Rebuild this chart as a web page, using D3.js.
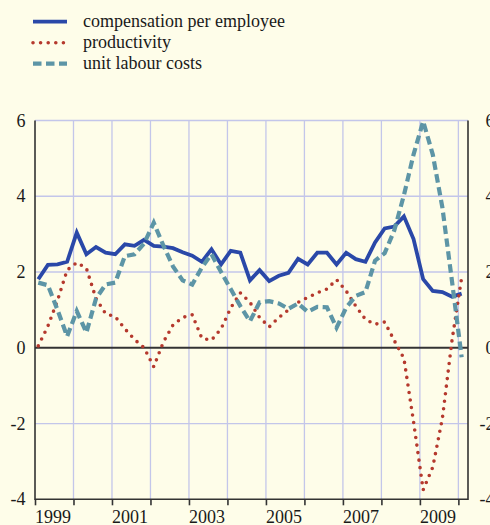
<!DOCTYPE html>
<html>
<head>
<meta charset="utf-8">
<script src="https://cdn.jsdelivr.net/npm/d3@7"></script>
<style>
	body { margin: 0; background: #fefde9; }
	svg { display: block; }
	text { font-family: "Liberation Serif", "Times New Roman", serif; fill: #1a1a1a; }
</style>
</head>
<body>
<div id="chart"></div>
<script>

// Quarterly observations, 1999 Q1 - 2010 Q1 (annual % changes)
var quarters = [
	'1999Q1', '1999Q2', '1999Q3', '1999Q4', '2000Q1', '2000Q2', '2000Q3', '2000Q4',
	'2001Q1', '2001Q2', '2001Q3', '2001Q4', '2002Q1', '2002Q2', '2002Q3', '2002Q4',
	'2003Q1', '2003Q2', '2003Q3', '2003Q4', '2004Q1', '2004Q2', '2004Q3', '2004Q4',
	'2005Q1', '2005Q2', '2005Q3', '2005Q4', '2006Q1', '2006Q2', '2006Q3', '2006Q4',
	'2007Q1', '2007Q2', '2007Q3', '2007Q4', '2008Q1', '2008Q2', '2008Q3', '2008Q4',
	'2009Q1', '2009Q2', '2009Q3', '2009Q4', '2010Q1'
];

var compensation = [
	1.81, 2.19, 2.20, 2.27, 3.04, 2.47, 2.66, 2.51, 2.47, 2.73, 2.69, 2.85,
	2.69, 2.67, 2.63, 2.52, 2.43, 2.27, 2.60, 2.20, 2.56, 2.51, 1.78, 2.05,
	1.76, 1.90, 1.98, 2.35, 2.20, 2.51, 2.51, 2.20, 2.51, 2.34, 2.27, 2.78,
	3.15, 3.20, 3.47, 2.87, 1.81, 1.50, 1.47, 1.35, 1.43
];

var productivity = [
	0.05, 0.57, 1.25, 2.05, 2.25, 2.10, 1.30, 0.90, 0.82, 0.50, 0.22, 0.00,
	-0.50, 0.15, 0.60, 0.80, 0.87, 0.25, 0.20, 0.50, 1.05, 1.45, 1.20, 0.80,
	0.55, 0.80, 1.00, 1.20, 1.33, 1.45, 1.55, 1.80, 1.50, 1.10, 0.75, 0.62,
	0.68, 0.19, -0.28, -1.95, -3.75, -3.15, -1.86, 0.20, 1.85
];

var unitLabourCosts = [
	1.72, 1.65, 1.00, 0.30, 0.97, 0.40, 1.30, 1.67, 1.72, 2.42, 2.47, 2.75,
	3.30, 2.70, 2.15, 1.78, 1.67, 2.12, 2.47, 2.00, 1.55, 1.10, 0.70, 1.20,
	1.23, 1.17, 1.03, 1.17, 0.95, 1.08, 1.07, 0.53, 1.06, 1.37, 1.47, 2.30,
	2.50, 3.10, 4.03, 5.10, 5.98, 5.10, 3.70, 1.75, -0.25
];

var yTicks = [-4, -2, 0, 2, 4, 6];
var yearTicks = [1999, 2000, 2001, 2002, 2003, 2004, 2005, 2006, 2007, 2008, 2009, 2010];
var yearLabels = [1999, 2001, 2003, 2005, 2007, 2009];

var legendItems = ['compensation per employee', 'productivity', 'unit labour costs'];

function drawChart() {
	var width = 490, height = 525;
	var plotLeft = 35, plotRight = 468, plotTop = 120.5, plotBottom = 499.3;

	var colors = ['#2a48a8', '#b5392d', '#5d95a6'];

	var svg = d3.select('#chart').append('svg')
		.attr('width', width)
		.attr('height', height);

	svg.append('rect')
		.attr('width', width)
		.attr('height', height)
		.attr('fill', '#fefde9');

	var x = d3.scaleLinear().domain([1999, 2010.25]).range([plotLeft, plotRight]);
	var y = d3.scaleLinear().domain([-4, 6]).range([plotBottom, plotTop]);

	// quarter label -> position on the time axis
	function qx(q) {
		var yr = +q.slice(0, 4), qn = +q.slice(5);
		return x(yr + (qn - 1) * 0.25 + 0.085);
	}

	// grid
	var grid = svg.append('g').attr('stroke', '#c3c6ea').attr('stroke-width', 1.3);
	grid.selectAll('line.v')
		.data(yearTicks.slice(1))
		.enter().append('line')
		.attr('class', 'v')
		.attr('x1', function (d) { return x(d); })
		.attr('x2', function (d) { return x(d); })
		.attr('y1', plotTop)
		.attr('y2', plotBottom);
	grid.selectAll('line.h')
		.data(yTicks.filter(function (d) { return d != 0 && d != -4; }))
		.enter().append('line')
		.attr('class', 'h')
		.attr('x1', plotLeft)
		.attr('x2', plotRight)
		.attr('y1', function (d) { return y(d); })
		.attr('y2', function (d) { return y(d); });

	// zero line
	svg.append('line')
		.attr('x1', plotLeft).attr('x2', plotRight)
		.attr('y1', y(0)).attr('y2', y(0))
		.attr('stroke', '#333').attr('stroke-width', 2);

	// axes frame (left, bottom, right)
	svg.append('path')
		.attr('d', 'M' + plotLeft + ',' + plotTop + 'V' + plotBottom + 'H' + plotRight + 'V' + plotTop)
		.attr('fill', 'none')
		.attr('stroke', '#333')
		.attr('stroke-width', 1.6);

	// bottom ticks at year boundaries
	svg.append('g')
		.attr('transform', 'translate(0,' + plotBottom + ')')
		.call(d3.axisBottom(x).tickValues(yearTicks).tickSize(6).tickFormat(''))
		.call(function (g) {
			g.select('.domain').remove();
			g.selectAll('line').attr('stroke', '#333').attr('stroke-width', 1.6);
		});

	// year labels, centred in the year
	svg.append('g').selectAll('text')
		.data(yearLabels)
		.enter().append('text')
		.attr('x', function (d) { return x(d + 0.47); })
		.attr('y', 522.5)
		.attr('text-anchor', 'middle')
		.attr('font-size', 18)
		.text(function (d) { return d; });

	// y labels, both sides
	svg.append('g').selectAll('text')
		.data(yTicks)
		.enter().append('text')
		.attr('x', 25.5)
		.attr('y', function (d) { return y(d) + 6; })
		.attr('text-anchor', 'end')
		.attr('font-size', 18)
		.text(function (d) { return d; });

	svg.append('g').selectAll('text')
		.data(yTicks)
		.enter().append('text')
		.attr('x', 494.5)
		.attr('y', function (d) { return y(d) + 6; })
		.attr('text-anchor', 'end')
		.attr('font-size', 18)
		.text(function (d) { return d; });

	// series
	var line = d3.line()
		.x(function (d) { return qx(d[0]); })
		.y(function (d) { return y(d[1]); });

	var series = [
		{ values: compensation, color: colors[0], width: 3.8, dash: null, cap: 'butt' },
		{ values: productivity, color: colors[1], width: 3.6, dash: '0 7.6', cap: 'round' },
		{ values: unitLabourCosts, color: colors[2], width: 4.2, dash: '8.5 4.5', cap: 'butt' }
	];

	series.forEach(function (s) {
		svg.append('path')
			.datum(d3.zip(quarters, s.values))
			.attr('d', line)
			.attr('fill', 'none')
			.attr('stroke', s.color)
			.attr('stroke-width', s.width)
			.attr('stroke-linejoin', 'miter')
			.attr('stroke-linecap', s.cap)
			.attr('stroke-dasharray', s.dash);
	});

	// legend
	var legend = svg.append('g');
	legendItems.forEach(function (name, i) {
		var ly = 21.7 + i * 21;
		var s = series[i];
		legend.append('line')
			.attr('x1', 33).attr('x2', 67)
			.attr('y1', ly).attr('y2', ly)
			.attr('stroke', s.color)
			.attr('stroke-width', s.width)
			.attr('stroke-linecap', s.cap)
			.attr('stroke-dasharray', s.dash);
		legend.append('text')
			.attr('x', 83)
			.attr('y', ly + 5.5)
			.attr('font-size', 18)
			.text(name);
	});
}

drawChart();
</script>
</body>
</html>
